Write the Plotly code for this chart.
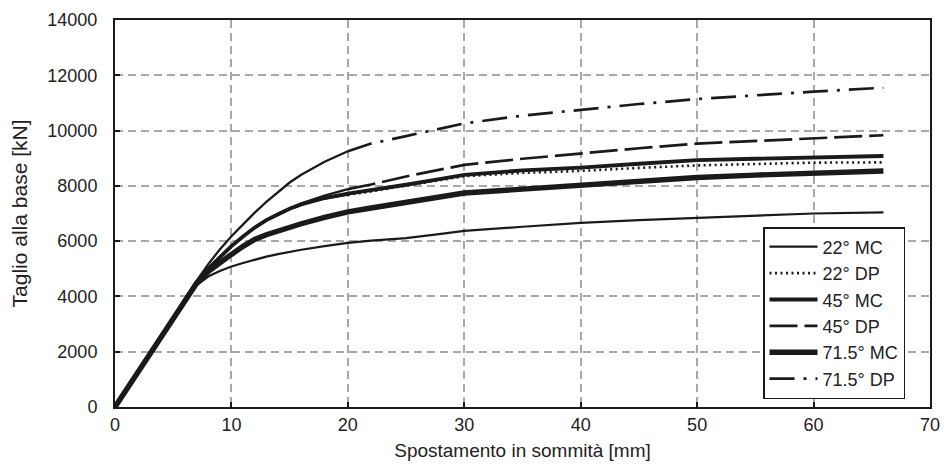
import plotly.graph_objects as go

# displacement at top [mm]
x_mm = [0, 6, 7, 8, 9, 10, 11, 12, 13, 14, 15, 16, 18, 20, 22, 25, 28, 30, 35, 40, 45, 50, 55, 60, 66]

mc_22 = [0, 3870, 4400, 4720, 4920, 5080, 5210, 5330, 5440, 5530, 5620, 5690, 5820, 5940, 6020, 6110, 6260, 6370, 6520, 6660, 6760, 6840, 6920, 7000, 7040]
dp_22 = [0, 3900, 4500, 5000, 5430, 5820, 6170, 6490, 6760, 6980, 7170, 7330, 7540, 7680, 7800, 8010, 8220, 8350, 8470, 8540, 8650, 8740, 8790, 8840, 8850]
mc_45 = [0, 3900, 4500, 5000, 5430, 5820, 6170, 6490, 6760, 6980, 7170, 7330, 7560, 7720, 7840, 8040, 8250, 8400, 8560, 8660, 8800, 8930, 8980, 9020, 9080]
dp_45 = [0, 3900, 4500, 5000, 5430, 5820, 6170, 6490, 6770, 7000, 7190, 7370, 7650, 7880, 8050, 8340, 8600, 8760, 8980, 9180, 9360, 9530, 9620, 9710, 9830]
mc_715 = [0, 3870, 4470, 4900, 5230, 5520, 5810, 6060, 6230, 6380, 6510, 6630, 6860, 7060, 7200, 7400, 7620, 7740, 7880, 8020, 8180, 8300, 8390, 8480, 8540]
dp_715 = [0, 3930, 4560, 5160, 5700, 6180, 6620, 7030, 7420, 7780, 8120, 8400, 8870, 9250, 9530, 9800, 10060, 10260, 10540, 10755, 10960, 11140, 11280, 11410, 11550]

series_names = ["22° MC", "22° DP", "45° MC", "45° DP", "71.5° MC", "71.5° DP"]
series_vals = [mc_22, dp_22, mc_45, dp_45, mc_715, dp_715]
styles = [
    dict(width=2.2, dash="solid"),
    dict(width=2.6, dash="2px,3.5px"),
    dict(width=3.8, dash="solid"),
    dict(width=2.7, dash="28px,7px"),
    dict(width=5.4, dash="solid"),
    dict(width=2.7, dash="25px,9px,3px,9px"),
]
# the patterned curves look continuous in the dense early part of the original
SPLIT_MM = 20

INK = "#1a1a1a"
FONT = "Arial, Liberation Sans, sans-serif"

fig = go.Figure()
for i, (name, vals, st) in enumerate(zip(series_names, series_vals, styles)):
    if st["dash"] != "solid":
        k = x_mm.index(SPLIT_MM)
        fig.add_trace(go.Scatter(
            x=x_mm[:k + 1], y=vals[:k + 1], mode="lines", showlegend=False,
            hoverinfo="skip",
            line=dict(color=INK, width=st["width"] - 0.4, dash="solid"),
        ))
        fig.add_trace(go.Scatter(
            x=x_mm[k:], y=vals[k:], mode="lines", name=name,
            legendgroup=f"g{i}",
            line=dict(color=INK, width=st["width"], dash=st["dash"]),
        ))
    else:
        fig.add_trace(go.Scatter(
            x=x_mm, y=vals, mode="lines", name=name,
            legendgroup=f"g{i}",
            line=dict(color=INK, width=st["width"], dash=st["dash"]),
        ))

PL, PR, PT, PB = 115, 930, 20, 407
W, H = 944, 466

fig.update_layout(
    width=W, height=H,
    margin=dict(l=PL, r=W - PR, t=PT, b=H - PB, autoexpand=False),
    paper_bgcolor="white", plot_bgcolor="white",
    font=dict(family=FONT, size=18, color="#222"),
    showlegend=True,
    legend=dict(
        x=(763 - PL) / (PR - PL), y=(PB - 227) / (PB - PT), xanchor="left", yanchor="top",
        bgcolor="white", bordercolor=INK, borderwidth=1.5,
        font=dict(family=FONT, size=18, color="#222"),
        tracegroupgap=0, itemwidth=48,
    ),
)
fig.update_xaxes(
    range=[0, 70], dtick=10, tick0=0, tickformat="d",
    showline=True, linecolor=INK, linewidth=2, mirror=True,
    ticks="inside", ticklen=5, tickcolor=INK, tickwidth=1.5,
    showgrid=True, gridcolor="#a6a8ab", gridwidth=1.5, griddash="8px,5px",
    zeroline=False, automargin=False,
    title=dict(text="Spostamento in sommità [mm]", font=dict(size=19), standoff=10),
    tickfont=dict(size=18),
)
fig.update_yaxes(
    range=[0, 14000], dtick=2000, tick0=0, tickformat="d",
    showline=True, linecolor=INK, linewidth=2, mirror=True,
    ticks="inside", ticklen=5, tickcolor=INK, tickwidth=1.5,
    showgrid=True, gridcolor="#a6a8ab", gridwidth=1.5, griddash="8px,5px",
    zeroline=False, automargin=False,
    ticklabelstandoff=12,
    title=dict(text="Taglio alla base [kN]", font=dict(size=21), standoff=14),
    tickfont=dict(size=18),
)

fig.write_html(
    "out.html",
    config={"displayModeBar": False},
    post_script="document.body.style.margin='0px';",
)
